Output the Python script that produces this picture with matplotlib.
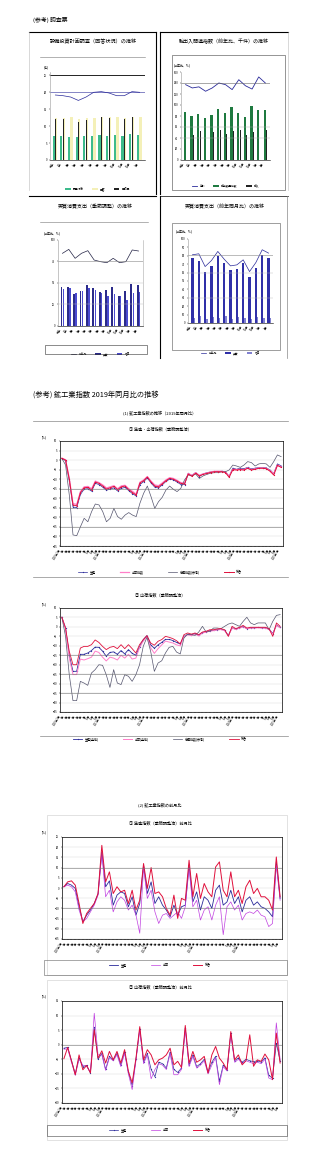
import numpy as np
import pandas as pd
import matplotlib
matplotlib.use('Agg')
import matplotlib.pyplot as plt
from matplotlib.patches import Rectangle
from matplotlib.lines import Line2D

plt.rcParams['font.family'] = ['Noto Sans CJK JP', 'DejaVu Sans']

W, H = 320, 1167

# ---- top panels (調査票) ----
p_cats12 = ['元年', '2年', '4月', '5月', '6月', '7月', '8月', '9月', '10月', '11月', '12月', '1月']
p_cats13 = ['元年', '2年', '4月', '5月', '6月', '7月', '8月', '9月', '10月', '11月', '12月', '1月', '2月']

p1_target = [7.0, 7.2, 6.8, 6.8, 7.0, 7.0, 7.3, 7.2, 7.3, 7.0, 7.6, 7.5]
p1_answer = [12.5, 12.5, 12.8, 12.0, 12.3, 12.5, 12.8, 12.6, 12.8, 12.5, 12.6, 12.6]
p1_black = [12.0, 12.0, 11.3, 11.2, 11.8, 12.6, 12.6, 12.3, 12.6, 12.0, 12.6, 12.6]
p1_rate = [19.2, 19.0, 18.6, 17.6, 18.6, 20.0, 20.2, 19.8, 19.0, 19.0, 20.2, 20.0]

p2_export = [88, 80, 83, 77, 82, 92, 85, 96, 85, 79, 98, 91, 90]
p2_import = [51, 46, 52, 48, 50, 55, 48, 53, 54, 45, 50, 52, 55]
p2_diff = [137, 131, 133, 125, 131, 140, 137, 128, 146, 135, 129, 151, 140]

p3_real = [45.7, 45.0, 37.2, 40.7, 47.7, 43.8, 39.9, 41.9, 45.7, 34.9, 41.1, 48.8, 48.1]
p3_nominal = [43, 44, 38, 41, 44, 42, 38, 35, 37, 35, 30, 38, 40]
p3_ratio = [84.5, 89.1, 78.7, 84.5, 87.6, 76.7, 74.8, 73.6, 78.7, 73.6, 74.8, 88.4, 87.2]

p4_real = [77.2, 74.4, 61.2, 68.0, 79.2, 71.2, 63.2, 64.0, 71.2, 54.4, 65.2, 81.2, 77.2]
p4_small = [6, 8, 5, 7, 6, 8, 5, 7, 6, 5, 7, 6, 6]
p4_ratio = [81.2, 82.4, 67.2, 74.4, 85.2, 76.0, 68.0, 69.2, 75.2, 61.2, 72.0, 87.2, 83.2]

# ---- 2019年同月比 ----
c1_total = [0.9, 0.0, -10.0, -23.5, -24.0, -17.0, -14.5, -14.3, -15.7, -11.5, -12.2, -13.6, -15.2, -14.5, -13.8,
            -15.5, -14.0, -13.6, -15.5, -17.0, -18.3, -12.0, -10.8, -8.9, -11.5, -13.6, -14.0, -12.5, -10.8, -9.6,
            -10.0, -11.0, -12.2, -12.5, -7.3, -8.5, -6.9, -8.3, -7.5, -7.0, -6.5, -6.1, -6.1, -6.1, -6.5,
            -9.0, -5.0, -5.2, -5.0, -5.2, -4.3, -5.2, -4.8, -4.3, -4.3, -4.5, -5.8, -7.8, -2.8, -3.8]
c1_ship = [1.0, 0.2, -9.5, -22.8, -23.2, -16.5, -14.0, -13.8, -15.0, -11.0, -11.8, -13.0, -14.6, -14.0, -13.4,
           -15.0, -13.5, -13.2, -15.0, -16.4, -17.8, -11.6, -10.4, -8.6, -11.0, -13.0, -13.4, -12.0, -10.4, -9.2,
           -9.6, -10.6, -11.8, -12.0, -7.0, -8.0, -6.6, -7.9, -7.2, -6.8, -6.2, -5.9, -5.8, -5.9, -6.2,
           -8.4, -4.8, -5.0, -4.8, -5.0, -4.1, -5.0, -4.6, -4.1, -4.1, -4.3, -5.5, -7.2, -2.6, -3.5]
c1_prod = [0.8, -0.3, -11.0, -24.5, -25.0, -18.0, -15.2, -15.0, -16.3, -12.2, -12.8, -14.2, -15.8, -15.2, -14.5,
           -16.2, -14.8, -14.3, -16.0, -17.6, -18.8, -12.8, -11.3, -9.4, -12.0, -14.2, -14.6, -13.0, -11.2, -10.0,
           -10.4, -11.5, -12.8, -12.8, -7.0, -8.0, -6.5, -8.6, -7.2, -6.6, -6.2, -5.9, -6.0, -5.8, -6.0,
           -8.5, -4.2, -4.8, -4.2, -4.5, -3.8, -4.6, -4.2, -3.9, -3.9, -4.0, -5.2, -7.0, -2.0, -3.0]
c1_inv = [0.9, -2.6, -18.3, -39.2, -39.6, -34.9, -30.5, -32.3, -27.0, -23.0, -23.5, -27.0, -32.3, -30.5, -25.3,
          -29.6, -31.0, -28.8, -27.5, -28.8, -29.6, -22.6, -17.4, -13.6, -19.2, -25.3, -21.8, -19.5, -15.7, -13.6,
          -15.3, -16.5, -14.8, -10.4, -7.8, -8.3, -7.3, -9.6, -8.3, -7.5, -6.9, -6.6, -6.6, -6.2, -6.1,
          -5.2, -2.6, -3.1, -3.8, -2.6, -0.8, -1.3, -3.1, -2.0, -1.7, -2.0, -3.8, -0.8, 2.7, 1.8]

c2_total = [5.1, -0.6, -12.9, -20.0, -20.0, -11.2, -10.3, -10.3, -9.4, -6.9, -8.2, -10.3, -12.0, -10.8, -10.3,
            -11.5, -9.4, -11.5, -9.4, -11.5, -13.8, -9.4, -6.7, -4.6, -8.5, -9.7, -7.6, -6.7, -5.0, -5.5,
            -6.2, -7.3, -9.0, -4.1, -3.2, -3.8, -3.2, -4.1, -2.7, -2.3, -1.5, -1.5, -1.1, -0.9, -1.5,
            -5.0, 0.3, -0.9, -0.2, 0.8, -0.6, -0.2, -0.2, -0.2, -0.2, -0.2, -0.9, -5.0, 2.1, 0.3]
c2_prod = [5.1, -0.6, -15.0, -23.5, -23.5, -14.5, -14.5, -13.8, -12.5, -10.7, -10.8, -12.8, -15.5, -13.5, -13.2,
           -14.5, -12.5, -14.3, -12.0, -14.0, -15.0, -10.5, -6.8, -4.6, -9.5, -11.3, -9.5, -8.2, -6.6, -6.6,
           -7.2, -8.2, -9.0, -5.0, -4.0, -4.3, -3.5, -4.5, -3.0, -2.5, -2.0, -1.8, -1.5, -1.2, -1.8,
           -4.5, -0.5, -1.2, -0.5, 0.2, -0.9, -0.5, -0.5, -0.3, -0.5, -0.5, -1.2, -3.5, 1.0, -0.3]
c2_ship = [5.1, -0.8, -16.5, -25.2, -25.2, -17.0, -17.5, -16.8, -16.0, -12.8, -13.5, -16.0, -18.0, -16.0, -16.5,
           -17.5, -15.0, -16.5, -14.5, -17.0, -16.5, -11.0, -7.5, -5.2, -11.0, -14.0, -11.5, -9.5, -7.5, -8.0,
           -8.5, -9.5, -10.0, -5.2, -4.2, -4.6, -3.8, -4.8, -3.2, -2.8, -2.2, -2.0, -1.6, -1.4, -2.0,
           -4.8, -0.6, -1.4, -0.7, 0.0, -1.0, -0.7, -0.6, -0.5, -0.6, -0.7, -1.4, -3.8, 0.8, -0.5]
c2_inv = [5.1, -5.0, -25.3, -39.0, -39.0, -28.8, -29.7, -30.9, -24.4, -22.6, -20.0, -20.3, -25.3, -32.0, -22.6,
          -29.7, -30.5, -25.3, -26.1, -28.8, -25.3, -20.0, -10.3, -5.5, -12.9, -23.5, -19.1, -17.9, -13.8, -10.8,
          -10.3, -13.3, -14.3, -5.9, -3.8, -4.1, -4.5, -2.7, 0.3, -2.7, -2.3, -0.6, -0.6, -0.9, 0.3,
          1.5, 2.1, 1.2, 0.3, 2.9, 5.1, 2.1, 1.2, 2.1, 2.1, 2.1, -1.5, 2.9, 6.1, 6.5]

# ---- 前月比 ----
c3_total = [0.6, 3.0, 3.5, 1.4, -7.6, -17.4, -12.5, -10.0, -7.6, -2.7, 20.9, 3.0, 7.9, -2.7, 0.6, -1.9, -1.1,
            -7.6, -1.1, -10.8, -6.0, 12.0, -0.2, 10.0, -2.7, -1.9, -4.3, -10.0, -13.3, -3.5, -14.9, -5.1, -6.0,
            13.6, -4.3, 7.1, -5.1, 2.2, -1.9, -4.3, 10.3, 12.8, -1.1, -4.3, 7.9, -4.3, -1.1, -7.6, 0.6, 3.8,
            -2.7, -0.2, -4.3, -4.3, -6.0, -10.8, 15.2, -4.3]
c3_prod = [0.6, 2.2, 1.4, -0.2, -9.2, -16.5, -13.3, -10.8, -7.6, -3.0, 17.7, 0.6, 3.5, -8.4, -3.5, -1.9, -2.7,
           -9.2, -4.3, -13.3, -7.6, 11.2, -2.7, 3.0, -7.6, -4.3, -8.4, -10.8, -14.1, -8.4, -13.3, -9.2, -8.4,
           11.2, -6.8, -1.9, -10.8, -4.3, -6.0, -10.0, -1.1, 1.4, -8.4, -6.8, -1.1, -7.6, -4.3, -11.7, -6.0, -4.3,
           -8.4, -6.8, -9.2, -10.0, -11.7, -14.1, 12.8, -5.1]
c3_ship = [0.6, 1.4, 0.6, -1.9, -10.8, -16.5, -14.9, -11.7, -8.4, -3.5, 16.9, -4.3, -1.1, -11.7, -6.8, -4.3, -6.0,
           -10.8, -8.4, -13.3, -22.2, 10.0, -5.1, -1.1, -11.7, -17.4, -13.3, -12.5, -14.9, -13.3, -11.7, -14.9,
           -9.2, 9.6, -9.2, -6.0, -15.7, -10.8, -9.2, -15.7, -8.4, -4.3, -22.9, -9.2, -6.8, -10.8, -8.4, -15.7,
           -12.5, -11.7, -12.5, -10.8, -13.3, -14.1, -18.9, -17.4, 11.2, -6.0]

c4_total = [-4.8, -0.9, -5.5, -10.3, -3.5, -8.6, -7.1, -9.7, 5.1, -4.6, -2.1, -6.3, -2.3, -5.2, -2.3, -6.3, -1.7,
            -9.1, -13.1, -4.6, 6.2, -5.2, -1.7, -3.5, -6.9, -5.2, -4.6, -3.5, -1.2, -6.9, -5.7, -7.8, 6.6, -6.3,
            -2.3, -6.0, -5.2, -4.0, -9.7, -3.5, -0.6, -4.6, -6.3, -8.6, 4.5, -5.2, -3.5, -6.9, -5.5, 3.4, -7.4,
            -5.2, -5.7, -3.2, -5.2, -12.0, 4.0, -6.3]
c4_prod = [-1.2, -0.9, -5.5, -10.0, -4.5, -7.5, -7.1, -9.7, 6.0, -5.0, -3.0, -8.5, -4.0, -5.2, -3.0, -7.0, -2.5,
           -9.5, -14.0, -5.0, 5.5, -6.0, -3.0, -8.5, -11.0, -6.0, -6.5, -8.0, -2.5, -8.5, -9.5, -8.0, 5.8, -7.0,
           -3.5, -7.5, -6.5, -5.0, -9.5, -6.0, -4.0, -12.5, -7.0, -8.6, 4.0, -5.5, -4.5, -6.0, -5.0, -5.5, -5.8,
           -5.5, -6.0, -4.5, -10.5, -11.5, 0.5, -5.5]
c4_ship = [-1.5, -1.5, -6.0, -10.5, -5.0, -7.0, -7.5, -9.5, 10.8, -3.5, -3.5, -8.8, -4.5, -5.5, -3.5, -7.5, -3.0,
           -10.0, -15.4, -5.5, 5.0, -6.5, -3.5, -11.7, -8.5, -6.5, -7.0, -8.5, -3.0, -10.3, -10.3, -8.5, 5.0, -7.5,
           -4.0, -8.0, -7.0, -5.5, -10.0, -7.0, -4.5, -13.7, -7.5, -9.0, 3.5, -6.0, -5.0, -6.5, -5.5, -6.0, -6.5,
           -6.0, -6.5, -5.0, -11.4, -12.0, 7.5, -5.0]

RED = '#e0103c'
PINK = '#ff7fc8'
NAVY = '#2a2a9a'
GRAY = '#55556e'
MAG = '#c040e0'

fig = plt.figure(figsize=(W / 100, H / 100), dpi=100)
fig.patch.set_facecolor('white')


def px_ax(x0, y0, x1, y1):
    return fig.add_axes([x0 / W, 1 - y1 / H, (x1 - x0) / W, (y1 - y0) / H])


def ftext(x, y, s, size=3, ha='center', **kw):
    fig.text(x / W, 1 - y / H, s, fontsize=size, ha=ha, va='center', **kw)


def frect(x0, y0, x1, y1, color='black', lw=0.5):
    fig.add_artist(Rectangle((x0 / W, 1 - y1 / H), (x1 - x0) / W, (y1 - y0) / H,
                             transform=fig.transFigure, fill=False, edgecolor=color, linewidth=lw))


def fline(x0, y0, x1, y1, color='black', lw=0.5):
    fig.add_artist(Line2D([x0 / W, x1 / W], [1 - y0 / H, 1 - y1 / H],
                          transform=fig.transFigure, color=color, linewidth=lw))


def small_axes(ax, ylim, yticks, cats):
    ax.set_ylim(*ylim)
    ax.set_yticks(yticks)
    ax.set_xlim(-0.7, len(cats) - 0.3)
    ax.set_xticks(range(len(cats)))
    ax.set_xticklabels(cats, rotation=60, fontsize=2, ha='right')
    ax.tick_params(axis='y', labelsize=2, length=1, width=0.3, pad=1)
    ax.tick_params(axis='x', length=0, pad=1)
    for s in ['top', 'right']:
        ax.spines[s].set_visible(False)
    ax.spines['left'].set_color('#999999')
    ax.spines['left'].set_linewidth(0.4)
    ax.spines['bottom'].set_linewidth(0.4)


# ---------------- top section ----------------
ftext(33, 20, '(参考) 調査票', size=4.2, ha='left')

# panel frames
fline(29, 32, 156, 32, lw=0.8)
fline(156, 32, 156, 194, lw=0.8)
fline(29, 32, 29, 190, color='#bbbbbb', lw=0.4)
fline(160, 32, 288, 32, lw=0.8)
fline(160, 32, 160, 194, lw=0.8)
fline(288, 32, 288, 190, color='#bbbbbb', lw=0.4)
fline(29, 196, 156, 196, lw=0.8)
fline(160, 196, 160, 358, lw=0.8)
fline(160, 196, 288, 196, lw=0.5)
fline(287, 196, 287, 358, color='#888888', lw=0.5)

# panel 1
ftext(93, 42, '設備投資計画調査（回答状況）の推移', size=3.7)
fline(40, 57, 145, 57, color='#777777', lw=0.4)
ax = px_ax(50, 72, 145, 160)
x = np.arange(len(p_cats12))
ax.bar(x - 0.22, p1_target, width=0.3, color='#3dbb8c', label='調査対象')
ax.bar(x + 0.12, p1_answer, width=0.3, color='#f4f0b8', label='回答')
ax.bar(x + 0.05, p1_black, width=0.07, color='#222222', label='回収率')
ax.plot(x, p1_rate, color=NAVY, lw=0.5)
ax.axhline(20, color=NAVY, lw=0.4)
ax.axhline(25, color='black', lw=0.6)
small_axes(ax, (0, 26), [0, 5, 10, 15, 20, 25], p_cats12)
ftext(46, 67, '(件)', size=2.2)
ax.legend(loc='center', bbox_to_anchor=(0.5, -0.33), ncol=3, fontsize=2, frameon=False,
          handlelength=2, columnspacing=3)

# panel 2
ftext(224, 42, '輸出入関連指数（前年比、千件）の推移', size=3.6)
frect(172, 55, 285, 190, color='#444444', lw=0.4)
ax = px_ax(181, 72, 270, 160)
x = np.arange(len(p_cats13))
ax.bar(x - 0.1, p2_export, width=0.35, color='#1f7a40', label='輸出数量指数')
ax.bar(x + 0.2, p2_import, width=0.12, color='#222222', label='輸入')
ax.plot(x, p2_diff, color=NAVY, lw=0.6, label='差引')
ax.axhline(140, color='#666666', lw=0.4)
for v in [60, 40]:
    ax.axhline(v, color='#aaaaaa', lw=0.3)
small_axes(ax, (0, 160), list(range(0, 161, 20)), p_cats13)
ftext(182, 65, '(前年比、%)', size=2.2)
ax.legend(loc='center', bbox_to_anchor=(0.5, -0.3), ncol=3, fontsize=2, frameon=False,
          handlelength=2, columnspacing=3)

# panel 3
ftext(95, 207, '実質消費支出（季節調整）の推移', size=3.6)
fline(40, 222, 148, 222, color='#777777', lw=0.4)
ax = px_ax(58, 240, 143, 326)
ax.bar(x - 0.15, p3_real, width=0.3, color='#2b2b8a', label='実質')
ax.bar(x + 0.18, p3_nominal, width=0.25, color='#4a4ad0', label='名目')
ax.plot(x, p3_ratio, color='#222244', lw=0.5, label='前年比')
ax.axhline(75, color='#888888', lw=0.4)
for v in [25, 50]:
    ax.axhline(v, color='#bbbbbb', lw=0.3)
small_axes(ax, (0, 100), [0, 25, 50, 75, 100], p_cats13)
ax.spines['right'].set_visible(True)
ax.spines['right'].set_color('#aaaaaa')
ax.spines['right'].set_linewidth(0.4)
ftext(52, 233, '(前年比、%)', size=2.2)
ax.legend(loc='center', bbox_to_anchor=(0.5, -0.33), ncol=3, fontsize=2, frameon=False,
          handlelength=2, columnspacing=3)
frect(45, 345, 147, 354, color='#333333', lw=0.4)

# panel 4
ftext(225, 207, '実質消費支出（前年同月比）の推移', size=3.6)
frect(172, 223, 280, 350, color='#555555', lw=0.4)
ax = px_ax(188, 239, 273, 323)
ax.bar(x, p4_real, width=0.4, color='#3030a8', label='実質')
ax.bar(x + 0.3, p4_small, width=0.2, color='#8080d0', label='名目')
ax.plot(x, p4_ratio, color=NAVY, lw=0.5, label='前年比')
ax.axhline(81, color='#888888', lw=0.4)
for v in [30, 60]:
    ax.axhline(v, color='#bbbbbb', lw=0.3)
small_axes(ax, (0, 100), list(range(0, 101, 10)), p_cats13)
ftext(184, 231, '(前年比、%)', size=2.2)
ax.legend(loc='center', bbox_to_anchor=(0.5, -0.36), ncol=3, fontsize=2, frameon=False,
          handlelength=2, columnspacing=3)


# ---------------- bottom section ----------------
def month_labels(n):
    dates = pd.date_range('2020-02-01', periods=n, freq='MS')
    out = []
    for i, d in enumerate(dates):
        if i == 0 or d.month == 1:
            out.append(f'{d.year}年{d.month}月')
        else:
            out.append(f'{d.month}月')
    return out


def line_chart(box, series, ylim, ystep, dark, legend_y):
    ax = px_ax(*box)
    n = len(series[0][1])
    x = np.arange(n)
    for label, vals, color, lw, marker in series:
        ax.plot(x, vals, color=color, lw=lw, marker=marker, ms=0.8, mew=0, label=label)
    ax.set_ylim(*ylim)
    ax.set_xlim(-0.5, n - 0.5)
    ticks = np.arange(ylim[0], ylim[1] + 0.01, ystep)
    ax.set_yticks(ticks)
    ax.grid(axis='y', color='#d8d8d8', lw=0.3)
    for v in dark:
        ax.axhline(v, color='#777777', lw=0.4)
    ax.set_xticks(x)
    ax.set_xticklabels(month_labels(n), rotation=60, ha='right', fontsize=1.8)
    ax.tick_params(axis='y', labelsize=2, length=1, width=0.3, pad=1)
    ax.tick_params(axis='x', length=0.8, width=0.2, pad=0.5)
    for s in ax.spines.values():
        s.set_linewidth(0.5)
    ax.set_axisbelow(True)
    fig.legend(*ax.get_legend_handles_labels(), loc='center', bbox_to_anchor=(0.5, 1 - legend_y / H),
               ncol=len(series), fontsize=2.2, frameon=False, handlelength=3, columnspacing=8)
    return ax


ftext(33, 395, '(参考) 鉱工業指数 2019年同月比の推移', size=5.2, ha='left')
ftext(160, 413, '(1) 鉱工業指数の推移（2019年同月比）', size=3)
fline(33, 421, 288, 421, color='#888888', lw=0.5)
ftext(160, 429, '① 生産・出荷指数（季節調整済）', size=3)
ftext(44, 437, '(%)', size=2.2)
line_chart((60, 441, 283, 546),
           [('生産', c1_prod, NAVY, 0.5, 'D'),
            ('出荷指数', c1_ship, PINK, 0.9, None),
            ('在庫指数(参考)', c1_inv, GRAY, 0.5, None),
            ('総合', c1_total, RED, 0.7, 's')],
           (-45, 10), 5, [-15, -25, -35], 572)
fline(33, 577, 288, 577, color='#888888', lw=0.5)

ftext(160, 595, '② 出荷指数（季節調整済）', size=3)
ftext(44, 604, '(%)', size=2.2)
line_chart((60, 608, 282, 712),
           [('生産(全体)', c2_prod, NAVY, 0.6, 'D'),
            ('出荷(全体)', c2_ship, PINK, 0.7, None),
            ('在庫指数(参考)', c2_inv, GRAY, 0.5, None),
            ('総合', c2_total, RED, 0.6, None)],
           (-45, 10), 5, [-15, -25, -35], 739)
fline(40, 736, 288, 736, color='#888888', lw=0.5)

ftext(160, 805, '(2) 鉱工業指数の前月比', size=3)
frect(47, 815, 287, 975, color='#cccccc', lw=0.4)
ftext(160, 823, '① 生産指数（季節調整済）前月比', size=3)
ftext(44, 832, '(%)', size=2.2)
line_chart((62, 837, 282, 939),
           [('生産', c3_prod, NAVY, 0.6, None),
            ('出荷', c3_ship, MAG, 0.5, None),
            ('総合', c3_total, RED, 0.7, None)],
           (-25, 25), 5, [10, -10], 965)
frect(44, 960, 287, 975, color='#666666', lw=0.4)

frect(47, 980, 287, 1140, color='#cccccc', lw=0.4)
ftext(160, 987, '② 出荷指数（季節調整済）前月比', size=3)
ftext(44, 996, '(%)', size=2.2)
line_chart((62, 1001, 282, 1103),
           [('生産', c4_prod, NAVY, 0.5, 'D'),
            ('出荷', c4_ship, MAG, 0.5, None),
            ('総合', c4_total, RED, 0.7, None)],
           (-20, 15), 5, [0], 1130)
frect(47, 1125, 287, 1136, color='#444444', lw=0.4)

fig.savefig('out.png', dpi=100, facecolor='white')
